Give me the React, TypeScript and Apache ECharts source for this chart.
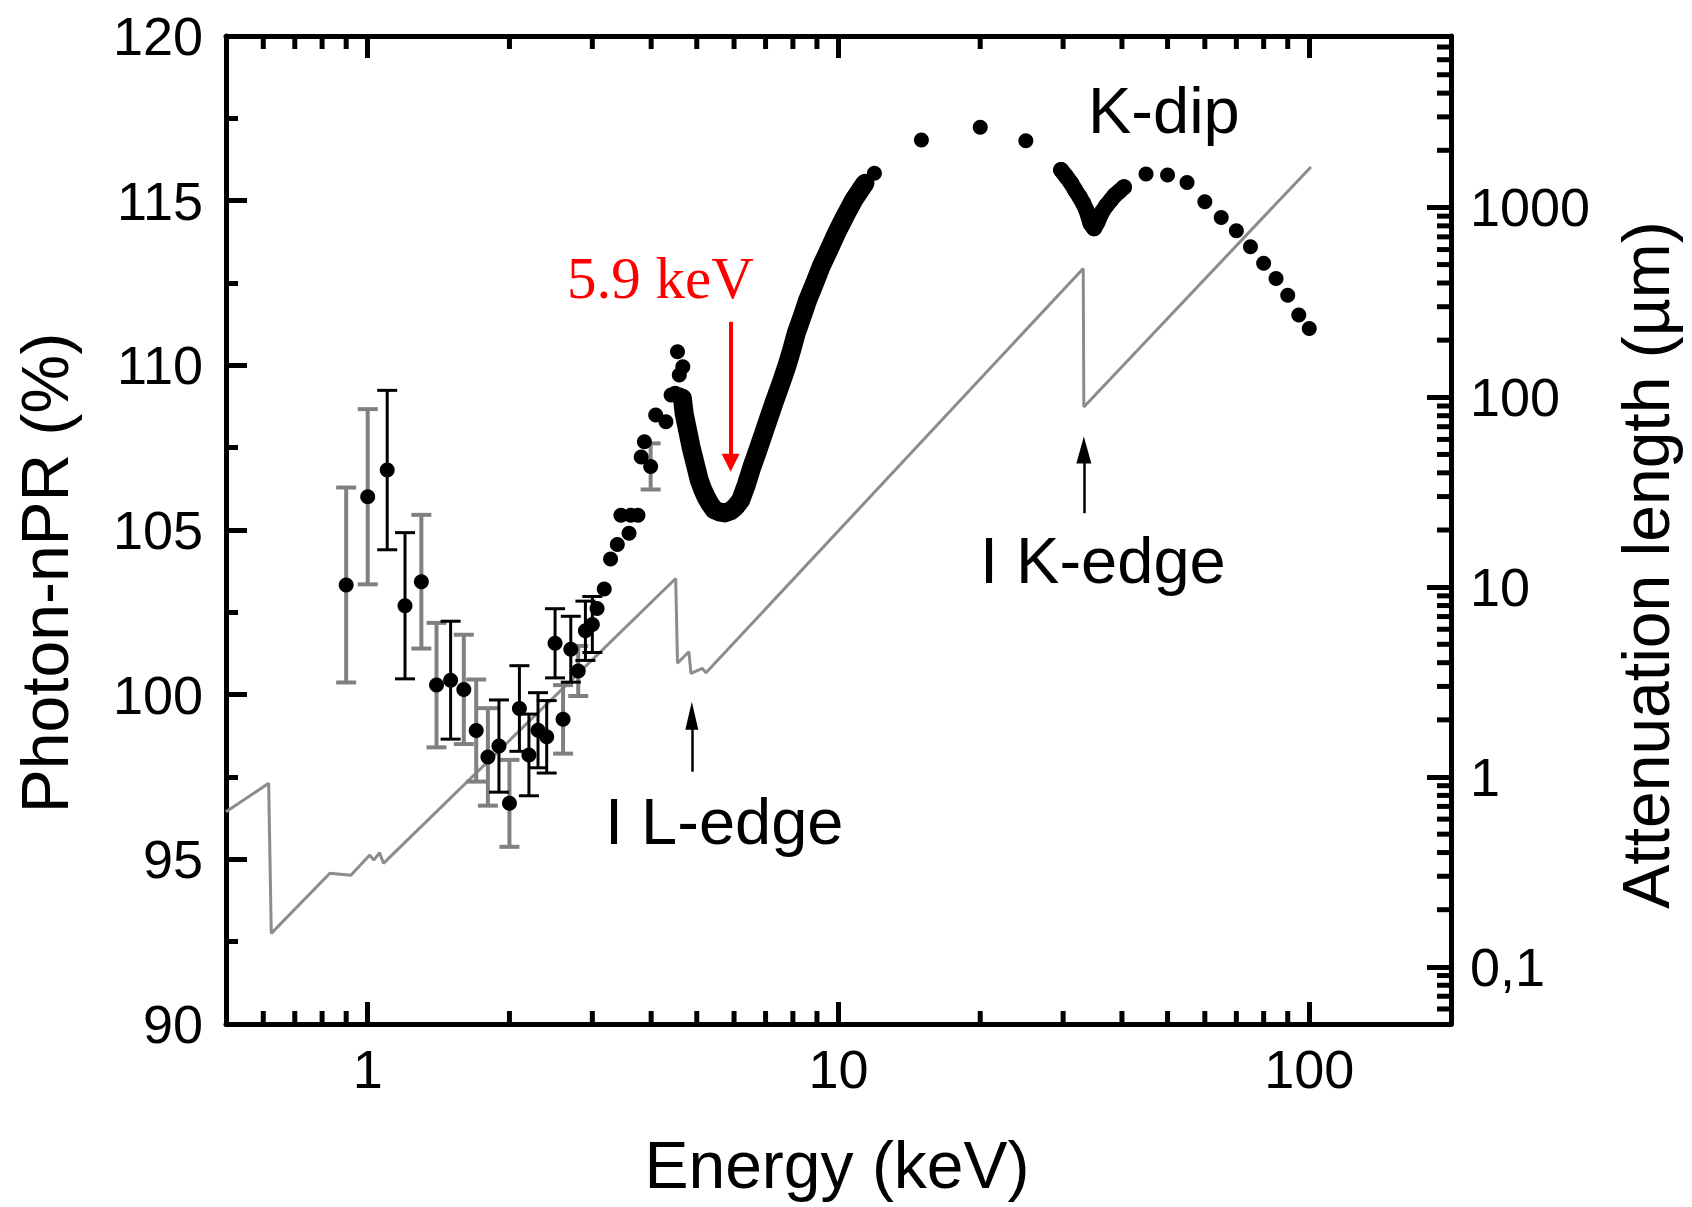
import React, { useEffect, useRef } from 'react';
import * as echarts from 'echarts';

// ---------- data ----------
// Left axis (Photon-nPR, %)
const leftMin = 90;
const leftMax = 120;
const leftStep = 5;

// Energy axis (keV, log)
const energyMin = 0.5;
const energyMax = 200;
const energyMinorTicks = [0.6, 0.7, 0.8, 0.9, 2, 3, 4, 5, 6, 7, 8, 9, 20, 30, 40, 50, 60, 70, 80, 90];

// Attenuation length axis (µm, log)
const attMin = 0.05;
const attMax = 8000;
const attMinorTicks = [
  0.06, 0.07, 0.08, 0.09,
  0.2, 0.3, 0.4, 0.5, 0.6, 0.7, 0.8, 0.9,
  2, 3, 4, 5, 6, 7, 8, 9,
  20, 30, 40, 50, 60, 70, 80, 90,
  200, 300, 400, 500, 600, 700, 800, 900,
  2000, 3000, 4000, 5000, 6000, 7000,
];

// Attenuation length curve (gray line, right axis)
const attEnergy = [0.5, 0.616, 0.624, 0.831, 0.921, 1.01, 1.03, 1.06, 1.08, 4.51, 4.55, 4.81, 4.86, 5.14, 5.23, 33.1, 33.2, 100.8];
const attLength = [0.656, 0.926, 0.15, 0.311, 0.304, 0.388, 0.365, 0.399, 0.351, 11.1, 3.97, 4.57, 3.51, 3.73, 3.54, 477, 89, 1635];

// Low-energy points with gray error bars: [E, nPR, err]
const grayBarPoints = [
  [0.9, 103.33, 2.96], [1.0, 106.01, 2.66], [1.3, 103.43, 2.03], [1.4, 100.29, 1.89],
  [1.6, 100.16, 1.66], [1.7, 98.91, 1.55], [1.8, 98.11, 1.48], [2.0, 96.7, 1.32],
  [2.6, 99.25, 1.04], [2.8, 100.72, 0.76], [3.99, 106.93, 0.7],
];
// Low-energy points with black error bars: [E, nPR, err]
const blackBarPoints = [
  [1.1, 106.82, 2.42], [1.2, 102.7, 2.22], [1.5, 100.44, 1.79], [1.9, 98.44, 1.4],
  [2.1, 99.58, 1.3], [2.2, 98.17, 1.24], [2.3, 98.92, 1.14], [2.4, 98.72, 1.1],
  [2.5, 101.56, 1.05], [2.7, 101.38, 1.0], [2.9, 101.94, 0.9], [3.0, 102.13, 0.85],
];
// Scattered points 3–4.7 keV
const midPoints = [
  [3.07, 102.62], [3.18, 103.21], [3.28, 104.12], [3.39, 104.56], [3.45, 105.45],
  [3.59, 104.9], [3.62, 105.45], [3.75, 105.45], [3.81, 107.22], [3.87, 107.68],
  [4.09, 108.49], [4.3, 108.29], [4.41, 109.1], [4.5, 109.15], [4.6, 109.1],
  [4.55, 110.41], [4.59, 109.71], [4.67, 109.96],
];
// Dense scan around the 5.9 keV dip
const vCurve = [
  [4.66, 109.0], [4.7, 108.54], [4.78, 108.03], [4.86, 107.53], [4.96, 107.02],
  [5.06, 106.52], [5.14, 106.25], [5.23, 106.01], [5.33, 105.8], [5.44, 105.62],
  [5.58, 105.55], [5.74, 105.52], [5.9, 105.58], [6.05, 105.71], [6.2, 105.91],
  [6.38, 106.4], [6.55, 106.92], [6.74, 107.42], [6.93, 107.93], [7.13, 108.45],
  [7.33, 108.95], [7.55, 109.46], [7.76, 109.96], [7.95, 110.46], [8.13, 110.97],
  [8.37, 111.48], [8.6, 111.98], [8.9, 112.5], [9.18, 112.99], [9.55, 113.52],
  [9.9, 114.01], [10.3, 114.5], [10.77, 115.02], [11.1, 115.3], [11.38, 115.53],
];
// Sparse points above the dip
const sparseHigh = [[11.92, 115.83], [15, 116.84], [20, 117.23], [25, 116.82]];
// Dense scan around the K-dip
const kDip = [
  [29.7, 115.93], [30.4, 115.75], [31.2, 115.53], [31.8, 115.33], [32.5, 115.12],
  [33.1, 114.92], [33.6, 114.72], [34.0, 114.5], [34.3, 114.31], [34.9, 114.16],
  [35.5, 114.35], [36.3, 114.66], [37.1, 114.86], [37.9, 115.02], [38.6, 115.16],
  [39.4, 115.27], [40.4, 115.41],
];
// Sparse points above the K-edge
const sparseTail = [
  [45, 115.81], [50, 115.78], [55, 115.55], [60, 114.97], [65, 114.49], [70, 114.09],
  [75, 113.6], [80, 113.1], [85, 112.64], [90, 112.13], [95, 111.53], [100, 111.12],
];

// Annotation arrows: [E, fromY, toY]
const redArrow = [5.9, 111.32, 107.04];
const lEdgeArrow = [4.88, 97.66, 99.36];
const kEdgeArrow = [33.2, 105.51, 107.43];

const SANS = 'Liberation Sans, Arial, Helvetica, sans-serif';
const SERIF = 'Liberation Serif, Times New Roman, serif';

function errorBarRenderer(color: string, width: number) {
  return (params: any, api: any) => {
    const x = api.value(0);
    const y = api.value(1);
    const e = api.value(2);
    const top = api.coord([x, y + e]);
    const bot = api.coord([x, y - e]);
    const half = 10;
    const style = { stroke: color, lineWidth: width };
    return {
      type: 'group',
      children: [
        { type: 'line', shape: { x1: top[0], y1: top[1], x2: bot[0], y2: bot[1] }, style },
        { type: 'line', shape: { x1: top[0] - half, y1: top[1], x2: top[0] + half, y2: top[1] }, style },
        { type: 'line', shape: { x1: bot[0] - half, y1: bot[1], x2: bot[0] + half, y2: bot[1] }, style },
      ],
    };
  };
}

function buildOption(): any {
  const tickStyle = { color: '#000', width: 5 };
  const axisLine = { show: true, onZero: false, lineStyle: { color: '#000', width: 5 } };
  const labelStyle = { fontSize: 54, color: '#000', fontFamily: SANS };

  const arrowLine = (a: number[], color: string, width: number, size: number[]) => [
    { coord: [a[0], a[1]], symbol: 'none', lineStyle: { color, width, type: 'solid' }, itemStyle: { color } },
    { coord: [a[0], a[2]], symbol: 'triangle', symbolSize: size, itemStyle: { color } },
  ];

  return {
    animation: false,
    backgroundColor: '#ffffff',
    textStyle: { fontFamily: SANS },
    grid: { left: 226, right: 241, top: 36, bottom: 183 },
    xAxis: [
      {
        type: 'log', logBase: 10, min: energyMin, max: energyMax, position: 'bottom',
        axisLine, axisTick: { show: true, inside: true, length: 22, lineStyle: tickStyle },
        axisLabel: { ...labelStyle, margin: 18, showMinLabel: false, showMaxLabel: false },
        splitLine: { show: false },
      },
      {
        type: 'log', logBase: 10, min: energyMin, max: energyMax, position: 'top',
        axisLine, axisTick: { show: true, inside: true, length: 22, lineStyle: tickStyle },
        axisLabel: { show: false }, splitLine: { show: false },
      },
    ],
    yAxis: [
      {
        type: 'value', min: leftMin, max: leftMax, interval: leftStep, position: 'left',
        axisLine, axisTick: { show: true, inside: true, length: 21, lineStyle: tickStyle },
        minorTick: { show: true, splitNumber: 2, length: 12, lineStyle: tickStyle },
        axisLabel: { ...labelStyle, margin: 23 },
        splitLine: { show: false }, minorSplitLine: { show: false },
      },
      {
        type: 'log', logBase: 10, min: attMin, max: attMax, position: 'right',
        axisLine, axisTick: { show: true, inside: true, length: 24, lineStyle: tickStyle },
        axisLabel: {
          ...labelStyle, margin: 19, showMinLabel: false, showMaxLabel: false,
          formatter: (v: number) => (v < 1 ? String(Number(v.toPrecision(3))).replace('.', ',') : String(Math.round(v))),
        },
        splitLine: { show: false },
      },
    ],
    graphic: [
      { type: 'text', x: 45, y: 573, rotation: Math.PI / 2, silent: true,
        style: { text: 'Photon-nPR (%)', fontSize: 66, fontFamily: SANS, fill: '#000', align: 'center', verticalAlign: 'middle' } },
      { type: 'text', x: 1646, y: 565, rotation: Math.PI / 2, silent: true,
        style: { text: 'Attenuation length (µm)', fontSize: 66, fontFamily: SANS, fill: '#000', align: 'center', verticalAlign: 'middle' } },
      { type: 'text', x: 837, y: 1165, silent: true,
        style: { text: 'Energy (keV)', fontSize: 66, fontFamily: SANS, fill: '#000', align: 'center', verticalAlign: 'middle' } },
      { type: 'text', x: 567, y: 278, silent: true,
        style: { text: '5.9 keV', fontSize: 59, fontFamily: SERIF, fill: '#ff0000', align: 'left', verticalAlign: 'middle' } },
      { type: 'text', x: 1088, y: 110, silent: true,
        style: { text: 'K-dip', fontSize: 65, fontFamily: SANS, fill: '#000', align: 'left', verticalAlign: 'middle' } },
      { type: 'text', x: 605, y: 821, silent: true,
        style: { text: 'I L-edge', fontSize: 65, fontFamily: SANS, fill: '#000', align: 'left', verticalAlign: 'middle' } },
      { type: 'text', x: 980, y: 560, silent: true,
        style: { text: 'I K-edge', fontSize: 65, fontFamily: SANS, fill: '#000', align: 'left', verticalAlign: 'middle' } },
    ],
    series: [
      {
        name: 'Attenuation length', type: 'line', xAxisIndex: 0, yAxisIndex: 1, z: 1,
        data: attEnergy.map((e, i) => [e, attLength[i]]),
        symbol: 'none', lineStyle: { color: '#8c8c8c', width: 3 }, silent: true,
      },
      {
        name: 'gray bars', type: 'custom', xAxisIndex: 0, yAxisIndex: 0, z: 2, silent: true,
        data: grayBarPoints, encode: { x: 0, y: 1 }, renderItem: errorBarRenderer('#808080', 4),
      },
      {
        name: 'black bars', type: 'custom', xAxisIndex: 0, yAxisIndex: 0, z: 3, silent: true,
        data: blackBarPoints, encode: { x: 0, y: 1 }, renderItem: errorBarRenderer('#000000', 3),
      },
      {
        name: 'dip scan', type: 'line', xAxisIndex: 0, yAxisIndex: 0, z: 5, silent: true,
        data: vCurve, symbol: 'circle', symbolSize: 16, itemStyle: { color: '#000', opacity: 1 },
        lineStyle: { color: '#000', width: 19, cap: 'round', join: 'round', opacity: 1 },
      },
      {
        name: 'K-dip scan', type: 'line', xAxisIndex: 0, yAxisIndex: 0, z: 5, silent: true,
        data: kDip, symbol: 'circle', symbolSize: 16, itemStyle: { color: '#000', opacity: 1 },
        lineStyle: { color: '#000', width: 16, cap: 'round', join: 'round', opacity: 1 },
      },
      {
        name: 'points', type: 'scatter', xAxisIndex: 0, yAxisIndex: 0, z: 6, silent: true,
        symbolSize: 15, itemStyle: { color: '#000', opacity: 1 },
        data: [
          ...grayBarPoints.map((d) => [d[0], d[1]]),
          ...blackBarPoints.map((d) => [d[0], d[1]]),
          ...midPoints, ...sparseHigh, ...sparseTail,
        ],
        markLine: {
          silent: true, animation: false, label: { show: false },
          symbol: ['none', 'triangle'],
          data: [
            arrowLine(redArrow, '#ff0000', 4, [18, 18]),
            arrowLine(lEdgeArrow, '#000000', 2.5, [13, 28]),
            arrowLine(kEdgeArrow, '#000000', 2.5, [15, 27]),
          ],
        },
      },
      {
        name: 'energy minor ticks', type: 'custom', xAxisIndex: 0, yAxisIndex: 0, z: 10, silent: true,
        data: energyMinorTicks.map((v) => [v, leftMin]), encode: { x: 0, y: 1 },
        renderItem: (params: any, api: any) => {
          const cs = params.coordSys;
          const x = api.coord([api.value(0), leftMin])[0];
          const style = { stroke: '#000', lineWidth: 5 };
          const yb = cs.y + cs.height;
          return {
            type: 'group',
            children: [
              { type: 'line', shape: { x1: x, y1: yb, x2: x, y2: yb - 13 }, style },
              { type: 'line', shape: { x1: x, y1: cs.y, x2: x, y2: cs.y + 13 }, style },
            ],
          };
        },
      },
      {
        name: 'attenuation minor ticks', type: 'custom', xAxisIndex: 0, yAxisIndex: 1, z: 10, silent: true,
        data: attMinorTicks.map((v) => [1, v]), encode: { x: 0, y: 1 },
        renderItem: (params: any, api: any) => {
          const cs = params.coordSys;
          const y = api.coord([1, api.value(1)])[1];
          const xr = cs.x + cs.width;
          return {
            type: 'line',
            shape: { x1: xr, y1: y, x2: xr - 14, y2: y },
            style: { stroke: '#000', lineWidth: 5 },
          };
        },
      },
    ],
  };
}

export default function App() {
  const ref = useRef<HTMLDivElement>(null);
  useEffect(() => {
    if (!ref.current) return;
    const chart = echarts.init(ref.current, null, { renderer: 'svg' });
    chart.setOption(buildOption());
    return () => chart.dispose();
  }, []);
  return (
    <div
      ref={ref}
      style={{ position: 'absolute', left: 0, top: 0, width: 1692, height: 1207, background: '#fff' }}
    />
  );
}
